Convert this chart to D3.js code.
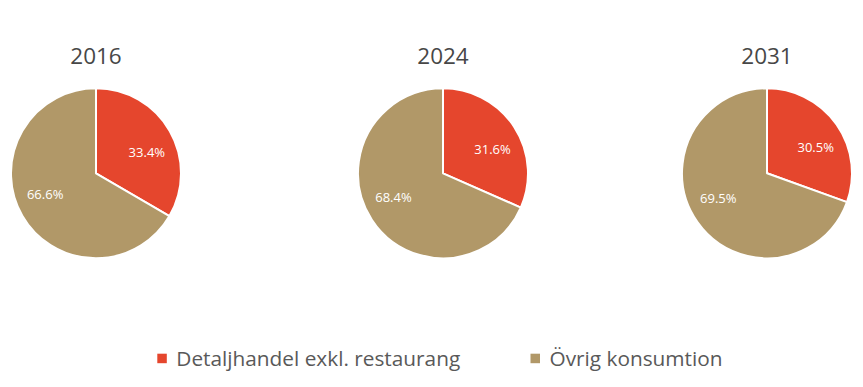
<!DOCTYPE html>
<html><head><meta charset="utf-8">
<script src="https://cdn.jsdelivr.net/npm/d3@7"></script>
<style>html,body{margin:0;padding:0;background:#fff;}svg{display:block;}</style>
</head><body>
<svg id="c" width="863" height="387"></svg>
<script>
const years = ["2016", "2024", "2031"];
const categories = ["Detaljhandel exkl. restaurang", "Övrig konsumtion"];
const retailShare = [33.4, 31.6, 30.5];
const otherShare = [66.6, 68.4, 69.5];
const colors = ["#E5462D", "#B19868"];

const svg = d3.select("#c");
const centers = {"2016": 96, "2024": 443, "2031": 767};
const R = 85, cy = 173.3;

const pie = d3.pie().sort(null).value(d => d.v);
const arc = d3.arc().innerRadius(0).outerRadius(R);
const labelR = 55, labelRot = 0.13;
const color = d3.scaleOrdinal().domain(categories).range(colors);
const fmt = d => d3.format(".1f")(d) + "%";

years.forEach((y, i) => {
  const data = [
    {k: categories[0], v: retailShare[i]},
    {k: categories[1], v: otherShare[i]}
  ];
  const g = svg.append("g").attr("transform", `translate(${centers[y]},${cy})`);
  const arcs = pie(data);
  g.selectAll("path").data(arcs).join("path")
    .attr("d", arc)
    .attr("fill", d => color(d.data.k))
    .attr("stroke", "#fff").attr("stroke-width", 2).attr("stroke-linejoin", "round");
  g.selectAll("text.lbl").data(arcs).join("text")
    .attr("class", "lbl")
    .attr("transform", d => {
      const a = (d.startAngle + d.endAngle) / 2 + labelRot;
      return `translate(${labelR * Math.sin(a)},${-labelR * Math.cos(a)})`;
    })
    .attr("text-anchor", "middle").attr("dy", "0.35em")
    .attr("fill", "#fff")
    .style("font-family", "'Open Sans', sans-serif").style("font-size", "13px")
    .text(d => fmt(d.data.v));
  svg.append("text")
    .attr("x", centers[y]).attr("y", 64.3)
    .attr("text-anchor", "middle")
    .attr("fill", "#474747")
    .style("font-family", "'Open Sans', sans-serif").style("font-size", "22.5px")
    .text(y);
});

// legend
const legendX = [157.3, 530.5];
const lg = svg.append("g");
categories.forEach((c, i) => {
  lg.append("rect").attr("x", legendX[i]).attr("y", 353.7).attr("width", 9.5).attr("height", 9.5).attr("fill", colors[i]);
  lg.append("text").attr("x", legendX[i] + 19).attr("y", 366)
    .attr("fill", "#595959")
    .style("font-family", "'Open Sans', sans-serif").style("font-size", "20.8px")
    .text(c);
});
</script>
</body></html>
